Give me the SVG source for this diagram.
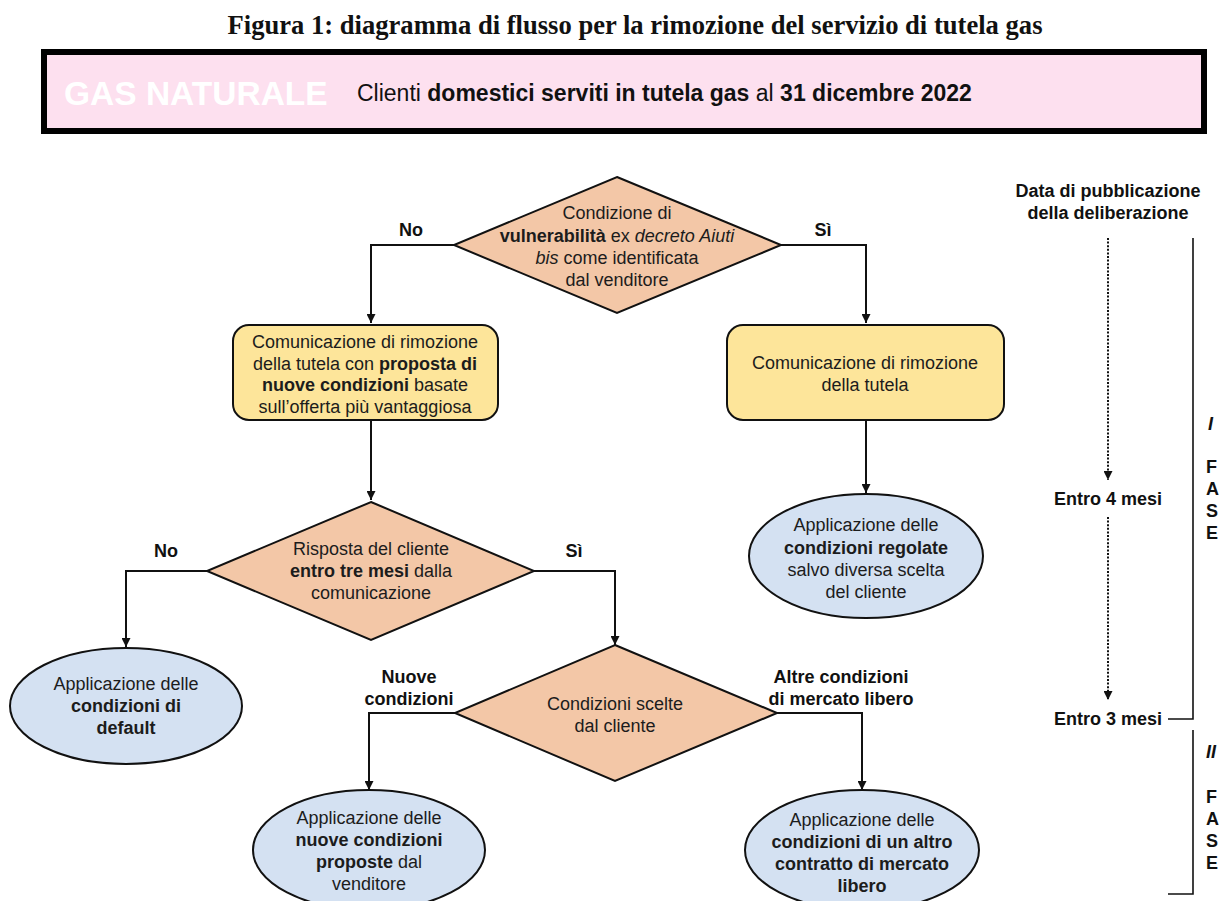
<svg xmlns="http://www.w3.org/2000/svg" width="1219" height="901" viewBox="0 0 1219 901">
<defs>
<style>
.t{font-family:"Liberation Sans",Arial,sans-serif;font-size:18px;fill:#1c1c1c;text-anchor:middle}
.b{font-weight:bold}
.i{font-style:italic}
.lbl{font-family:"Liberation Sans",Arial,sans-serif;font-size:18px;font-weight:bold;fill:#111;text-anchor:middle}
.dia{fill:#f3c7a7;stroke:#111;stroke-width:2;stroke-linejoin:miter}
.box{fill:#fde59a;stroke:#111;stroke-width:2}
.ell{fill:#d4e1f2;stroke:#111;stroke-width:2}
.con{fill:none;stroke:#111;stroke-width:2}
.dot{fill:none;stroke:#111;stroke-width:2;stroke-dasharray:2 1.6}
.br{fill:none;stroke:#111;stroke-width:1.6}
</style>
<marker id="arr" viewBox="0 0 10 10" refX="10" refY="5" markerWidth="4.5" markerHeight="4.5" orient="auto" markerUnits="strokeWidth">
<path d="M0,0 L10,5 L0,10 z" fill="#111"/>
</marker>
<marker id="arrs" viewBox="0 0 10 10" refX="10" refY="5" markerWidth="4.5" markerHeight="4.5" orient="auto" markerUnits="strokeWidth">
<path d="M0,0 L10,5 L0,10 z" fill="#111"/>
</marker>
</defs>
<rect width="1219" height="901" fill="#ffffff"/>

<text x="635" y="34" style="font-family:'Liberation Serif','Times New Roman',serif;font-size:26.6px;font-weight:bold;fill:#111;text-anchor:middle">Figura 1: diagramma di flusso per la rimozione del servizio di tutela gas</text>

<g id="banner">
<rect x="44" y="52" width="1160" height="79" fill="#fde0ef" stroke="#000" stroke-width="6"/>
<text x="64" y="105" style="font-family:'Liberation Sans',Arial,sans-serif;font-size:33.5px;font-weight:bold;fill:#ffffff">GAS NATURALE</text>
<text x="357" y="101" style="font-family:'Liberation Sans',Arial,sans-serif;font-size:23px;fill:#111">Clienti <tspan class="b">domestici serviti in tutela gas</tspan> al <tspan class="b">31 dicembre 2022</tspan></text>
</g>

<g id="connectors">
<polyline class="con" points="454,245 371,245 371,323" marker-end="url(#arr)"/>
<polyline class="con" points="781,245 866,245 866,323" marker-end="url(#arr)"/>
<line class="con" x1="371" y1="420" x2="371" y2="500" marker-end="url(#arr)"/>
<line class="con" x1="866" y1="420" x2="866" y2="493" marker-end="url(#arr)"/>
<polyline class="con" points="207,571 126,571 126,647" marker-end="url(#arr)"/>
<polyline class="con" points="534,571 615,571 615,645" marker-end="url(#arr)"/>
<polyline class="con" points="455,713 369,713 369,790" marker-end="url(#arr)"/>
<polyline class="con" points="777,713 862,713 862,790" marker-end="url(#arr)"/>
</g>

<g id="edge-labels">
<text class="lbl" x="411" y="236">No</text>
<text class="lbl" x="823" y="236">Sì</text>
<text class="lbl" x="166" y="557">No</text>
<text class="lbl" x="574" y="557">Sì</text>
<text class="lbl" x="409" y="683">Nuove</text>
<text class="lbl" x="409" y="705">condizioni</text>
<text class="lbl" x="841" y="683">Altre condizioni</text>
<text class="lbl" x="841" y="705">di mercato libero</text>
</g>

<g id="d1">
<polygon class="dia" points="617,177 781,245 617,313 454,245"/>
<text class="t" x="617" y="219">Condizione di</text>
<text class="t" x="617" y="242"><tspan class="b">vulnerabilità</tspan> ex <tspan class="i">decreto Aiuti</tspan></text>
<text class="t" x="617" y="264"><tspan class="i">bis</tspan> come identificata</text>
<text class="t" x="617" y="286">dal venditore</text>
</g>

<g id="box1">
<rect class="box" x="233" y="325" width="265" height="95" rx="16"/>
<text class="t" x="365" y="348">Comunicazione di rimozione</text>
<text class="t" x="365" y="370">della tutela con <tspan class="b">proposta di</tspan></text>
<text class="t" x="365" y="391"><tspan class="b">nuove condizioni</tspan> basate</text>
<text class="t" x="365" y="413">sull’offerta più vantaggiosa</text>
</g>

<g id="box2">
<rect class="box" x="727" y="325" width="277" height="95" rx="16"/>
<text class="t" x="865" y="369">Comunicazione di rimozione</text>
<text class="t" x="865" y="391">della tutela</text>
</g>

<g id="d2">
<polygon class="dia" points="371,502 534,571 371,640 207,571"/>
<text class="t" x="371" y="555">Risposta del cliente</text>
<text class="t" x="371" y="577"><tspan class="b">entro tre mesi</tspan> dalla</text>
<text class="t" x="371" y="599">comunicazione</text>
</g>

<g id="e-regolate">
<ellipse class="ell" cx="866" cy="556" rx="117" ry="62"/>
<text class="t" x="866" y="531">Applicazione delle</text>
<text class="t" x="866" y="554" font-weight="bold">condizioni regolate</text>
<text class="t" x="866" y="576">salvo diversa scelta</text>
<text class="t" x="866" y="598">del cliente</text>
</g>

<g id="e-default">
<ellipse class="ell" cx="126" cy="706" rx="116" ry="58"/>
<text class="t" x="126" y="690">Applicazione delle</text>
<text class="t" x="126" y="712" font-weight="bold">condizioni di</text>
<text class="t" x="126" y="734" font-weight="bold">default</text>
</g>

<g id="d3">
<polygon class="dia" points="615,645 777,713 615,781 455,713"/>
<text class="t" x="615" y="710">Condizioni scelte</text>
<text class="t" x="615" y="732">dal cliente</text>
</g>

<g id="e-nuove">
<ellipse class="ell" cx="369" cy="850" rx="116" ry="60"/>
<text class="t" x="369" y="824">Applicazione delle</text>
<text class="t" x="369" y="846" font-weight="bold">nuove condizioni</text>
<text class="t" x="369" y="868"><tspan class="b">proposte</tspan> dal</text>
<text class="t" x="369" y="890">venditore</text>
</g>

<g id="e-altro">
<ellipse class="ell" cx="862" cy="850" rx="117" ry="60"/>
<text class="t" x="862" y="826">Applicazione delle</text>
<text class="t" x="862" y="848" font-weight="bold">condizioni di un altro</text>
<text class="t" x="862" y="870" font-weight="bold">contratto di mercato</text>
<text class="t" x="862" y="892" font-weight="bold">libero</text>
</g>

<g id="timeline">
<text class="lbl" x="1108" y="197">Data di pubblicazione</text>
<text class="lbl" x="1108" y="219">della deliberazione</text>
<line class="dot" x1="1108" y1="238" x2="1108" y2="480" marker-end="url(#arrs)"/>
<text class="lbl" x="1108" y="505">Entro 4 mesi</text>
<line class="dot" x1="1108" y1="517" x2="1108" y2="700" marker-end="url(#arrs)"/>
<text class="lbl" x="1108" y="725">Entro 3 mesi</text>
<polyline class="br" points="1168,719 1193,719 1193,238"/>
<polyline class="br" points="1193,730 1193,894 1168,894"/>
<g style="font-family:'Liberation Sans',Arial,sans-serif;font-size:18px;font-weight:bold;fill:#111">
<text x="1208" y="430" font-style="italic">I</text>
<text x="1206" y="473">F</text>
<text x="1206" y="495">A</text>
<text x="1206" y="517">S</text>
<text x="1206" y="539">E</text>
<text x="1206" y="758" font-style="italic">II</text>
<text x="1206" y="803">F</text>
<text x="1206" y="825">A</text>
<text x="1206" y="847">S</text>
<text x="1206" y="869">E</text>
</g>
</g>
</svg>
